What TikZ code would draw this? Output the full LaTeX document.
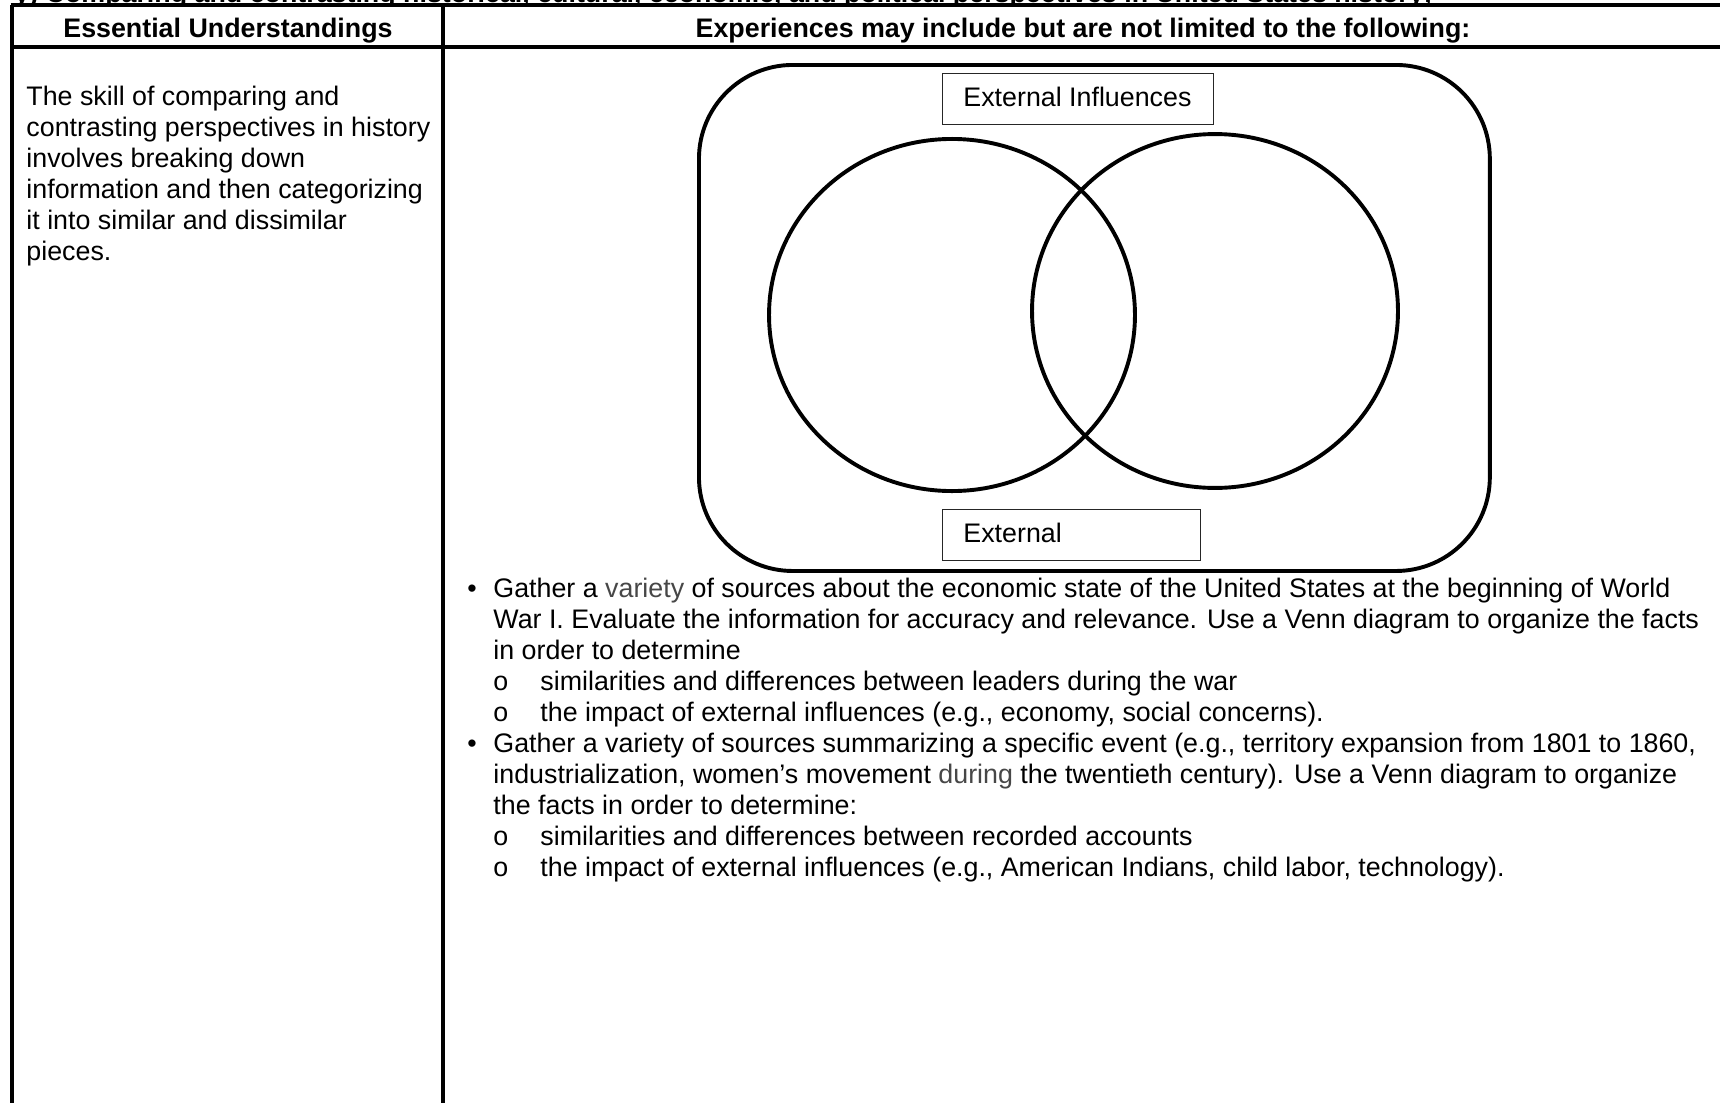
\documentclass[tikz,border=0pt]{standalone}
\usepackage{fontspec}
\setmainfont{Liberation Sans}
\usetikzlibrary{shapes.geometric}
\begin{document}
\begin{tikzpicture}[x=0.4476pt,y=-0.4476pt,
  tbl/.style={line width=1.35pt},
  venn/.style={line width=1.75pt},
  lblbox/.style={draw=black!85,line width=0.5pt,inner sep=0pt,anchor=north west},
  txt/.style={anchor=base west,inner sep=0pt,font=\fontsize{12}{13.8}\selectfont},
  hdr/.style={anchor=base,inner sep=0pt,font=\fontsize{12}{13.8}\selectfont\bfseries},
  ring/.style={ellipse,draw,venn,inner sep=0pt}]
\useasboundingbox (0,0) rectangle (1720,1103);
\fill[white] (0,0) rectangle (1720,1103);

% cut-off heading above the table
\begin{scope}
\clip (0,0) rectangle (1720,4);
\node[anchor=base west,inner sep=0pt,font=\fontsize{12}{13.8}\selectfont\bfseries] (cut) at (14,2.5)
  {y) Comparing and contrasting historical, cultural, economic, and political perspectives in United States history;};
\end{scope}

% table frame
\coordinate (tl) at (12,5);
\coordinate (tr) at (1720,5);
\coordinate (hl) at (12,47);
\coordinate (hr) at (1720,47);
\coordinate (dt) at (443,5);
\coordinate (lb) at (12,1103);
\coordinate (db) at (443,1103);
\draw[tbl] ([xshift=-0.6pt]tl) -- (tr);
\draw[tbl] (hl) -- (hr);
\draw[tbl] (tl) -- (lb);
\draw[tbl] (dt) -- (db);

% headers
\node[hdr] (h1) at (228,37.5) {Essential Understandings};
\node[hdr] (h2) at (1083,37.5) {Experiences may include but are not limited to the following:};

% left column text
\node[txt] (l1) at (26,105.5) {The skill of comparing and};
\node[txt] (l2) at (26,136.5) {contrasting perspectives in history};
\node[txt] (l3) at (26,167.5) {involves breaking down};
\node[txt] (l4) at (26,198.5) {information and then categorizing};
\node[txt] (l5) at (26,229.5) {it into similar and dissimilar};
\node[txt] (l6) at (26,260.5) {pieces.};

% Venn diagram
\node[draw,venn,rounded corners=42pt,anchor=north west,inner sep=0pt,
  minimum width=354pt,minimum height=226.5pt] (frame) at (697,63) {};
\node[ring,minimum width=163.8pt,minimum height=157.6pt] (L) at (952,315) {};
\node[ring,minimum width=163.8pt,minimum height=158.4pt] (R) at (1215,311) {};
\node[lblbox,minimum width=121.3pt,minimum height=22.8pt] (box1) at (942,73) {};
\node[txt] (t1) at (963,106) {External Influences};
\node[lblbox,minimum width=115.5pt,minimum height=22.8pt] (box2) at (942,509) {};
\node[txt] (t2) at (963,542) {External};

% bullet list
\node[txt] (p1) at (467,597) {•};
\node[txt] (b1) at (493,597) {Gather a \textcolor{black!72}{variety} of sources about the economic state of the United States at the beginning of World};
\node[txt] (b2) at (493,628.1) {War I. Evaluate the information for accuracy and relevance. Use a Venn diagram to organize the facts};
\node[txt] (b3) at (493,659.2) {in order to determine};
\node[txt] (o1) at (493,690.3) {o};
\node[txt] (b4) at (540,690.3) {similarities and differences between leaders during the war};
\node[txt] (o2) at (493,721.4) {o};
\node[txt] (b5) at (540,721.4) {the impact of external influences (e.g., economy, social concerns).};
\node[txt] (p2) at (467,752.5) {•};
\node[txt] (b6) at (493,752.5) {Gather a variety of sources summarizing a specific event (e.g., territory expansion from 1801 to 1860,};
\node[txt] (b7) at (493,783.6) {industrialization, women’s movement \textcolor{black!72}{during} the twentieth century). Use a Venn diagram to organize};
\node[txt] (b8) at (493,814.7) {the facts in order to determine:};
\node[txt] (o3) at (493,845.8) {o};
\node[txt] (b9) at (540,845.8) {similarities and differences between recorded accounts};
\node[txt] (o4) at (493,876.9) {o};
\node[txt] (b10) at (540,876.9) {the impact of external influences (e.g., American Indians, child labor, technology).};
\end{tikzpicture}
\end{document}
